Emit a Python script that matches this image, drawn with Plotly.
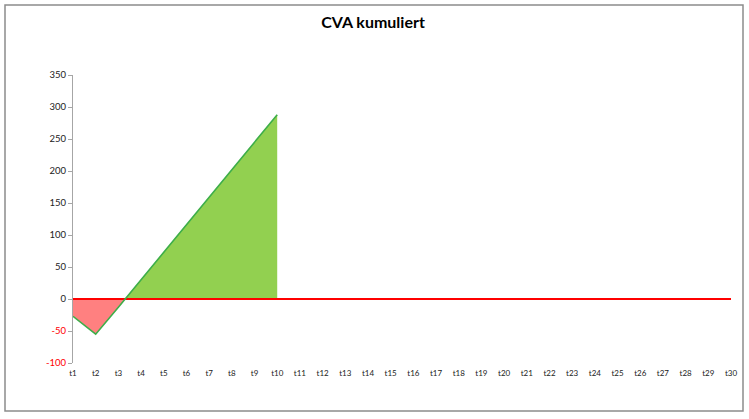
import plotly.graph_objects as go

categories = [f"t{i}" for i in range(1, 31)]
cva_values = [-27, -55, -13, 30, 73, 116, 159, 202, 245, 288]
y_ticks = [-100, -50, 0, 50, 100, 150, 200, 250, 300, 350]

x_num = list(range(1, len(cva_values) + 1))

# split into negative / positive parts at zero crossings
neg_x, neg_y, pos_x, pos_y = [], [], [], []
for i, v in enumerate(cva_values):
    x = x_num[i]
    if i > 0:
        pv = cva_values[i - 1]
        if (pv < 0 <= v) or (pv >= 0 > v):
            xc = x_num[i - 1] + (0 - pv) / (v - pv)
            neg_x.append(xc); neg_y.append(0)
            pos_x.append(xc); pos_y.append(0)
    if v < 0:
        neg_x.append(x); neg_y.append(v)
    else:
        pos_x.append(x); pos_y.append(v)

fig = go.Figure()
fig.add_trace(go.Scatter(x=neg_x, y=neg_y, mode="lines", fill="tozeroy",
                         fillcolor="#FF8080", line=dict(width=0), hoverinfo="skip"))
fig.add_trace(go.Scatter(x=pos_x, y=pos_y, mode="lines", fill="tozeroy",
                         fillcolor="#92D050", line=dict(width=0), hoverinfo="skip"))
fig.add_trace(go.Scatter(x=list(range(1, len(categories) + 1)), y=[0] * len(categories),
                         mode="lines", line=dict(color="#FF0000", width=2)))
fig.add_trace(go.Scatter(x=x_num, y=cva_values, mode="lines",
                         line=dict(color="#3DAE49", width=1.6)))

tick_text = [f"<span style='color:#FF0000'>{v}</span>" if v < 0 else str(v) for v in y_ticks]

W, H = 749, 419
ml, mr, mt, mb = 73, 18, 75, 56
pw, ph = W - ml - mr, H - mt - mb

def px(xp):
    return (xp - ml) / pw

def py(yp):
    return (H - mb - yp) / ph

fig.update_layout(
    width=W, height=H,
    margin=dict(l=ml, r=mr, t=mt, b=mb),
    paper_bgcolor="white", plot_bgcolor="white",
    showlegend=False,
    title=dict(text="<b>CVA kumuliert</b>", x=px(373), xref="paper",
               y=1 - 22 / H, yanchor="middle", xanchor="center",
               font=dict(family="Lato, Open Sans, sans-serif", size=16, color="#000000")),
    font=dict(family="Lato, Open Sans, sans-serif", color="#000000"),
    xaxis=dict(range=[1, len(categories)],
               tickmode="array", tickvals=list(range(1, len(categories) + 1)),
               ticktext=categories, showgrid=False, zeroline=False, showline=False,
               ticks="", ticklabelstandoff=4, tickfont=dict(size=8, color="#222222")),
    yaxis=dict(range=[-100, 350], tickmode="array", tickvals=y_ticks, ticktext=tick_text,
               showgrid=False, zeroline=False, showline=True, linecolor="#A6A6A6",
               linewidth=1, ticks="outside", ticklen=4, tickcolor="#A6A6A6",
               tickfont=dict(size=9.5, color="#222222")),
    shapes=[dict(type="rect", xref="paper", yref="paper",
                 x0=px(5), x1=px(743), y0=py(411), y1=py(5),
                 line=dict(color="#8C8C8C", width=1.5), fillcolor="rgba(0,0,0,0)",
                 layer="below")],
)

fig.write_html("out.html", config={"displayModeBar": False},
               post_script="document.body.style.margin='0';document.body.style.overflow='hidden';")
